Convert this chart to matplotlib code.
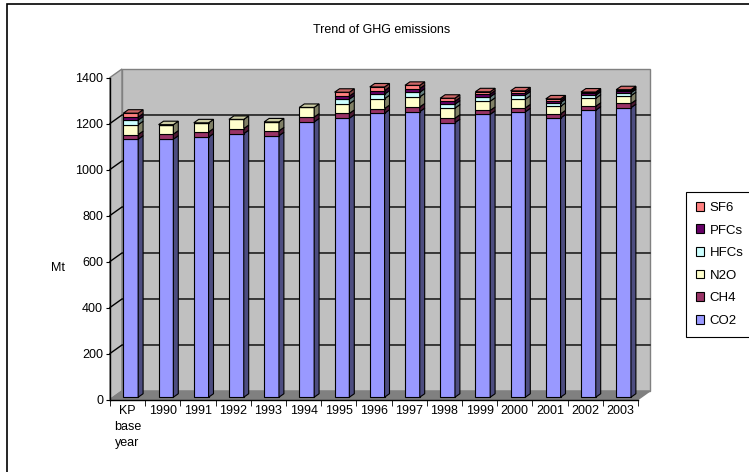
import numpy as np
import matplotlib
matplotlib.use('Agg')
import matplotlib.pyplot as plt
from matplotlib.patches import Polygon, Rectangle, Patch
from matplotlib.colors import to_rgb

plt.rcParams['font.family'] = ['Liberation Sans', 'DejaVu Sans']

# data (Mt CO2 eq.)
years = ['KP\nbase\nyear', '1990', '1991', '1992', '1993', '1994', '1995', '1996',
         '1997', '1998', '1999', '2000', '2001', '2002', '2003']
gases = ['CO2', 'CH4', 'N2O', 'HFCs', 'PFCs', 'SF6']
co2 = [1122, 1122, 1131, 1146, 1137, 1197, 1213, 1235, 1242, 1194, 1230, 1241, 1214, 1248, 1259]
ch4 = [20, 22, 22, 22, 21, 21, 21, 20, 20, 19, 17, 17, 18, 17, 18]
n2o = [43, 41, 40, 40, 39, 42, 42, 43, 44, 44, 40, 38, 33, 35, 34]
hfcs = [20, 0, 0, 0, 0, 0, 20, 20, 20, 17, 19, 18, 16, 13, 13]
pfcs = [13, 0, 0, 0, 0, 0, 13, 15, 16, 13, 12, 10, 9, 8, 7]
sf6 = [17, 0, 0, 0, 0, 0, 17, 16, 14, 13, 10, 8, 7, 6, 6]
series = [co2, ch4, n2o, hfcs, pfcs, sf6]
colors = ['#9999FF', '#993366', '#FFFFCC', '#CCFFFF', '#660066', '#FF8080']

W, H = 749, 472
fig = plt.figure(figsize=(W / 100, H / 100), dpi=100)
ax = fig.add_axes([110 / W, 1 - 399.5 / H, 528 / W, 322 / H])
ax.set_xlim(-0.5, 14.5)
ax.set_ylim(0, 1400)
ax.patch.set_visible(False)

# 3D depth of the plot box
dx, dy = 0.34, 37
x0, x1, ymax = -0.5, 14.5, 1400

# walls and floor
ax.add_patch(Polygon([(x0 + dx, dy), (x1 + dx, dy), (x1 + dx, ymax + dy), (x0 + dx, ymax + dy)],
                     closed=True, facecolor='#C0C0C0', edgecolor='#808080', lw=1,
                     clip_on=False, zorder=0.5))
ax.add_patch(Polygon([(x0, 0), (x0 + dx, dy), (x0 + dx, ymax + dy), (x0, ymax)],
                     closed=True, facecolor='#C0C0C0', edgecolor='#808080', lw=1,
                     clip_on=False, zorder=0.5))
ax.add_patch(Polygon([(x0, 0), (x1, 0), (x1 + dx, dy), (x0 + dx, dy)],
                     closed=True, facecolor='#808080', edgecolor='#808080', lw=1,
                     clip_on=False, zorder=0.7))
for v in range(200, 1400, 200):
    ax.plot([x0, x0 + dx, x1 + dx], [v, v + dy, v + dy], color='black', lw=1,
            clip_on=False, zorder=0.6)

# bars
w, fx, fy = 0.42, 0.09, 10
bd, bdy = 0.14, 15
x = np.arange(len(years))
bottom = np.full(len(years), fy, dtype=float)
top_color = [colors[0]] * len(years)
for vals, c in zip(series, colors):
    vals = np.array(vals, dtype=float)
    ax.bar(x + fx, vals, width=w, bottom=bottom, color=c, edgecolor='black', lw=0.8,
           zorder=3, clip_on=False)
    side = np.array(to_rgb(c)) * 0.5
    for i, (b, v) in enumerate(zip(bottom, vals)):
        if v <= 0:
            continue
        top_color[i] = c
        xr = x[i] + fx + w / 2
        ax.add_patch(Polygon([(xr, b), (xr + bd, b + bdy), (xr + bd, b + v + bdy), (xr, b + v)],
                             closed=True, facecolor=side, edgecolor='black', lw=0.8,
                             zorder=3, clip_on=False))
    bottom += vals

for i, t in enumerate(bottom):
    xl = x[i] + fx - w / 2
    xr = x[i] + fx + w / 2
    tc = np.array(to_rgb(top_color[i])) * 0.8
    ax.add_patch(Polygon([(xl, t), (xr, t), (xr + bd, t + bdy), (xl + bd, t + bdy)],
                         closed=True, facecolor=tc, edgecolor='black', lw=0.8,
                         zorder=3.5, clip_on=False))

# axes
for s in ['top', 'right']:
    ax.spines[s].set_visible(False)
for s in ['left', 'bottom']:
    ax.spines[s].set_color('black')
    ax.spines[s].set_linewidth(1)
ax.set_xticks(x)
ax.set_xticklabels(years)
ax.set_xticks(np.arange(-0.5, 15, 1), minor=True)
ax.tick_params(axis='x', which='major', length=0, pad=4, labelsize=9)
ax.tick_params(axis='x', which='minor', length=4, direction='out')
for t in ax.get_xticklabels():
    t.set_linespacing(1.45)
ax.set_yticks(range(0, 1401, 200))
ax.tick_params(axis='y', length=3, pad=2, labelsize=9)

fig.text(58 / W, 1 - 268 / H, 'Mt', ha='center', va='center', fontsize=9)
fig.text(382 / W, 1 - 30 / H, 'Trend of GHG emissions', ha='center', va='center', fontsize=9)

# legend box runs past the right edge, as in the original
handles = [Patch(facecolor=c, edgecolor='black', lw=0.8) for c in colors[::-1]]
leg = fig.legend(handles, gases[::-1], loc='upper left',
                 bbox_to_anchor=(686 / W, 1 - 335 / H, 80 / W, 143 / H), mode='expand',
                 frameon=True, fancybox=False, edgecolor='black', framealpha=1, fontsize=9.5,
                 handlelength=0.65, handleheight=0.65, handletextpad=0.4,
                 labelspacing=0.8, borderpad=0.75, borderaxespad=0)
leg.get_frame().set_linewidth(0.8)

fig.add_artist(Rectangle((7 / W, -0.05), 1.1, 1 - 4 / H + 0.05, transform=fig.transFigure,
                         fill=False, edgecolor='black', lw=1.2))

fig.savefig('out.png', dpi=100)
